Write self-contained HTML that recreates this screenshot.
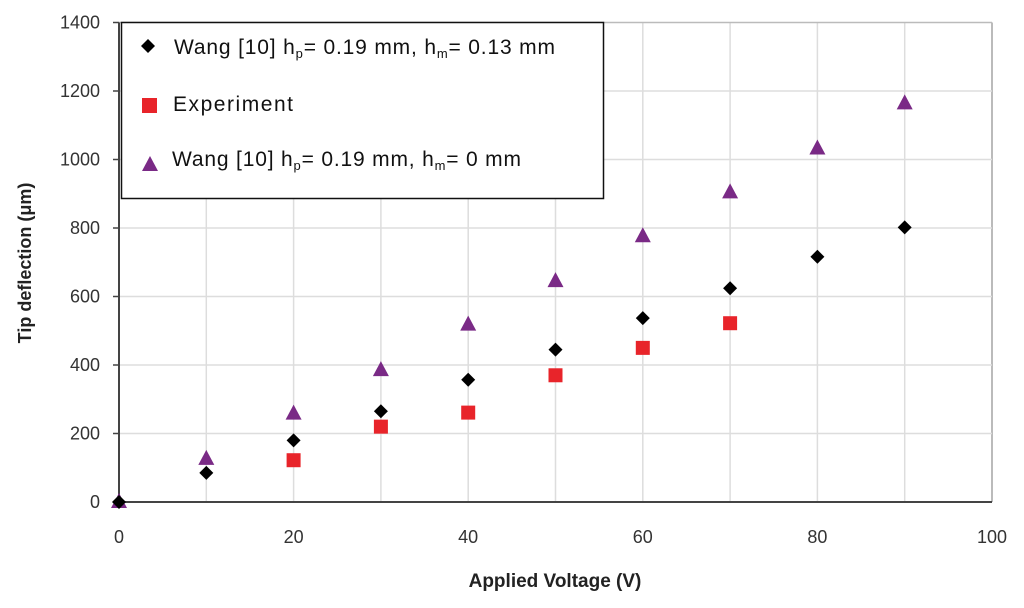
<!DOCTYPE html>
<html><head><meta charset="utf-8"><style>
html,body{margin:0;padding:0;background:#fff;}
svg{display:block;font-family:"Liberation Sans",Arial,sans-serif;}
</style></head><body>
<svg id="chart" width="1024" height="608" viewBox="0 0 1024 608">
<g id="grid"></g>
<g id="axes"></g>
<g id="marks"></g>
<text x="555" y="587" text-anchor="middle" font-weight="bold" font-size="19" fill="#222">Applied Voltage (V)</text>
<text transform="translate(31,263) rotate(-90)" text-anchor="middle" font-weight="bold" font-size="18" fill="#222">Tip deflection (μm)</text>
<g>
<rect x="121.5" y="22.5" width="482" height="176" fill="#fff" stroke="#111" stroke-width="1.5"/>
<g>
<path d="M148,39 l7,7 l-7,7 l-7,-7z" fill="#000"/>
<text x="174" y="54" font-size="21" fill="#111" textLength="381" lengthAdjust="spacing">Wang [10] h<tspan font-size="13" dy="4">p</tspan><tspan dy="-4">= 0.19  mm, h</tspan><tspan font-size="13" dy="4">m</tspan><tspan dy="-4">= 0.13 mm</tspan></text>
</g>
<g>
<rect x="142" y="98" width="15" height="15" fill="#e8242a"/>
<text x="173" y="111" font-size="21" fill="#111" textLength="120" lengthAdjust="spacing">Experiment</text>
</g>
<g>
<path d="M150,156 l8,15 l-16,0z" fill="#7a2a86"/>
<text x="172" y="166" font-size="21" fill="#111" textLength="349" lengthAdjust="spacing">Wang [10] h<tspan font-size="13" dy="4">p</tspan><tspan dy="-4">= 0.19  mm, h</tspan><tspan font-size="13" dy="4">m</tspan><tspan dy="-4">= 0 mm</tspan></text>
</g>
</g>
</svg>
<script>
const xTicks=[0,20,40,60,80,100];
const yTicks=[0,200,400,600,800,1000,1200,1400];
const voltages=[0,10,20,30,40,50,60,70,80,90];
const wang013=[0,85,180,265,357,445,537,624,716,802];
const expVolt=[0,20,30,40,50,60,70];
const experiment=[0,122,220,261,370,450,522];
const wang0=[0,126,258,385,518,645,776,904,1032,1164];
const X=v=>119+v*8.73, Y=v=>502-v*0.3425;
const NS="http://www.w3.org/2000/svg";
function mk(tag,attrs,parent,txt){const e=document.createElementNS(NS,tag);for(const k in attrs)e.setAttribute(k,attrs[k]);if(txt!==undefined)e.textContent=txt;parent.appendChild(e);return e;}
const grid=document.getElementById('grid'),axes=document.getElementById('axes'),marks=document.getElementById('marks');
for(let v=10;v<=100;v+=10){const l=mk('line',{x1:X(v),x2:X(v),y1:Y(1400),y2:Y(0),stroke:v===100?'#bbb':'#ddd','stroke-width':v===100?2:1.5},grid);

}
yTicks.forEach(t=>{if(t===0)return;const l=mk('line',{x1:X(0),x2:X(100),y1:Y(t),y2:Y(t),stroke:t===1400?'#bbb':'#ddd','stroke-width':1.5},grid);

});
const ax=mk('line',{x1:X(0),x2:X(0),y1:Y(1400),y2:Y(0)+1,stroke:'#444','stroke-width':2},axes);


const xa=mk('line',{x1:X(0)-5,x2:X(100),y1:Y(0),y2:Y(0),stroke:'#444','stroke-width':2},axes);


yTicks.forEach(t=>{mk('line',{x1:X(0)-6,x2:X(0),y1:Y(t),y2:Y(t),stroke:'#444','stroke-width':1.5},axes);
const tx=mk('text',{x:100,y:Y(t)+6,'text-anchor':'end','font-size':18,fill:'#333'},axes,String(t));

});
xTicks.forEach(t=>{const tx=mk('text',{x:X(t),y:543,'text-anchor':'middle','font-size':18,fill:'#333'},axes,String(t));

});
voltages.forEach((v,i)=>{const x=X(v),y=Y(wang0[i]);const p=mk('path',{d:`M${x},${y-9} L${x+8},${y+6} L${x-8},${y+6}Z`,fill:'#7a2a86'},marks);

});
voltages.forEach((v,i)=>{const x=X(v),y=Y(wang013[i]);const p=mk('path',{d:`M${x},${y-7} L${x+7},${y} L${x},${y+7} L${x-7},${y}Z`,fill:'#000'},marks);

});
expVolt.forEach((v,i)=>{if(v===0)return;const p=mk('rect',{x:X(v)-7,y:Y(experiment[i])-7,width:14,height:14,fill:'#e8242a'},marks);

});
</script>
</body></html>
